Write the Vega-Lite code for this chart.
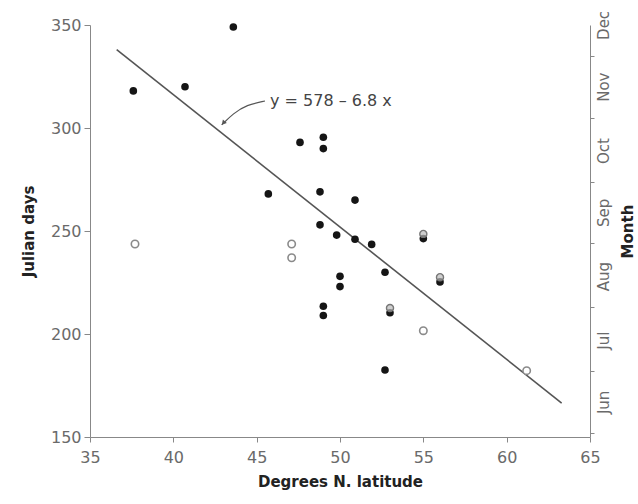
{
  "$schema": "https://vega.github.io/schema/vega-lite/v6.json",
  "width": 500,
  "height": 412,
  "autosize": {"type": "none"},
  "padding": {"left": 90, "top": 25, "right": 48, "bottom": 67},
  "background": "white",
  "config": {
    "view": {"stroke": null},
    "font": "DejaVu Sans",
    "axis": {
      "grid": false,
      "domainColor": "#888",
      "tickColor": "#888",
      "labelColor": "#6a6a6a",
      "labelFont": "DejaVu Sans",
      "labelFontSize": 16,
      "titleFont": "DejaVu Sans",
      "titleFontSize": 15,
      "titleFontWeight": "bold",
      "titleColor": "#222"
    }
  },
  "datasets": {
    "pts": [
      {"lat": 37.6, "day": 318, "type": "filled"},
      {"lat": 40.7, "day": 320, "type": "filled"},
      {"lat": 43.6, "day": 349, "type": "filled"},
      {"lat": 45.7, "day": 268, "type": "filled"},
      {"lat": 47.6, "day": 293, "type": "filled"},
      {"lat": 49.0, "day": 295.5, "type": "filled"},
      {"lat": 49.0, "day": 290, "type": "filled"},
      {"lat": 48.8, "day": 269, "type": "filled"},
      {"lat": 48.8, "day": 253, "type": "filled"},
      {"lat": 49.8, "day": 248, "type": "filled"},
      {"lat": 50.9, "day": 265, "type": "filled"},
      {"lat": 50.9, "day": 246, "type": "filled"},
      {"lat": 51.9, "day": 243.5, "type": "filled"},
      {"lat": 52.7, "day": 230, "type": "filled"},
      {"lat": 50.0, "day": 228, "type": "filled"},
      {"lat": 50.0, "day": 223, "type": "filled"},
      {"lat": 49.0, "day": 213.5, "type": "filled"},
      {"lat": 49.0, "day": 209, "type": "filled"},
      {"lat": 52.7, "day": 182.5, "type": "filled"},
      {"lat": 55.0, "day": 246.3, "type": "filled"},
      {"lat": 53.0, "day": 210.3, "type": "filled"},
      {"lat": 56.0, "day": 225.3, "type": "filled"},
      {"lat": 37.7, "day": 243.7, "type": "open"},
      {"lat": 47.1, "day": 243.7, "type": "open"},
      {"lat": 47.1, "day": 237, "type": "open"},
      {"lat": 55.0, "day": 201.6, "type": "open"},
      {"lat": 61.2, "day": 182.2, "type": "open"},
      {"lat": 55.0, "day": 248.6, "type": "half"},
      {"lat": 53.0, "day": 212.6, "type": "half"},
      {"lat": 56.0, "day": 227.6, "type": "half"}
    ],
    "fit": [
      {"lat": 36.6, "day": 338},
      {"lat": 63.3, "day": 166.5}
    ],
    "arrow": [
      {"lat": 45.5, "day": 313.1, "o": 1},
      {"lat": 44.4, "day": 311.2, "o": 2},
      {"lat": 43.6, "day": 307.1, "o": 3},
      {"lat": 42.9, "day": 301.5, "o": 4}
    ],
    "head": [
      {"lat": 43.0, "day": 302.4}
    ],
    "label": [
      {"lat": 45.8, "day": 313, "text": "y = 578 – 6.8 x"}
    ]
  },
  "layer": [
    {
      "encoding": {
        "x": {
          "field": "lat",
          "type": "quantitative",
          "scale": {"domain": [35, 65], "nice": false, "zero": false},
          "axis": {
            "values": [35, 40, 45, 50, 55, 60, 65],
            "labelFlush": false,
            "tickSize": 5,
            "labelPadding": 7,
            "titlePadding": 9,
            "title": "Degrees N. latitude"
          }
        },
        "y": {
          "field": "day",
          "type": "quantitative",
          "scale": {"domain": [150, 350], "nice": false, "zero": false},
          "axis": {
            "values": [150, 200, 250, 300, 350],
            "tickSize": 6,
            "labelPadding": 3,
            "titlePadding": 14,
            "title": "Julian days"
          }
        }
      },
      "layer": [
        {
          "data": {"name": "fit"},
          "mark": {"type": "line", "color": "#555", "strokeWidth": 1.6}
        },
        {
          "data": {"name": "arrow"},
          "mark": {"type": "line", "color": "#555", "strokeWidth": 1.2, "interpolate": "basis"},
          "encoding": {"order": {"field": "o", "type": "quantitative"}}
        },
        {
          "data": {"name": "head"},
          "mark": {"type": "point", "shape": "triangle-up", "filled": true, "color": "#555", "size": 28, "angle": 222, "opacity": 1}
        },
        {
          "data": {"name": "label"},
          "mark": {"type": "text", "align": "left", "baseline": "middle", "fontSize": 16, "color": "#444", "font": "DejaVu Sans"},
          "encoding": {"text": {"field": "text"}}
        },
        {
          "data": {"name": "pts"},
          "transform": [{"filter": "datum.type == 'filled'"}],
          "mark": {"type": "circle", "color": "#151515", "size": 58, "opacity": 1}
        },
        {
          "data": {"name": "pts"},
          "transform": [{"filter": "datum.type == 'open'"}],
          "mark": {"type": "point", "shape": "circle", "fill": "white", "stroke": "#8a8a8a", "strokeWidth": 1.6, "size": 55, "opacity": 1, "fillOpacity": 1}
        },
        {
          "data": {"name": "pts"},
          "transform": [{"filter": "datum.type == 'half'"}],
          "mark": {"type": "point", "shape": "circle", "fill": "#bbbbbb", "stroke": "#777", "strokeWidth": 1.4, "size": 50, "opacity": 1, "fillOpacity": 0.7}
        }
      ]
    },
    {
      "data": {"name": "fit"},
      "mark": {"type": "point", "opacity": 0},
      "encoding": {
        "x": {"field": "lat", "type": "quantitative", "scale": {"domain": [35, 65], "nice": false, "zero": false}},
        "y": {
          "field": "day",
          "type": "quantitative",
          "scale": {"domain": [150, 350], "nice": false, "zero": false},
          "axis": {
            "orient": "right",
            "values": [152, 182, 213, 244, 274, 305, 335],
            "labelExpr": "datum.value == 152 ? 'Jun' : datum.value == 182 ? 'Jul' : datum.value == 213 ? 'Aug' : datum.value == 244 ? 'Sep' : datum.value == 274 ? 'Oct' : datum.value == 305 ? 'Nov' : 'Dec'",
            "labelAngle": -90,
            "labelAlign": "center",
            "labelBaseline": "top",
            "labelOffset": -31,
            "labelOverlap": false,
            "labelFontSize": 15,
            "tickSize": 4,
            "labelPadding": 2,
            "title": "Month",
            "titleAngle": -90,
            "titlePadding": 24
          }
        }
      }
    }
  ],
  "resolve": {"scale": {"y": "independent"}}
}
